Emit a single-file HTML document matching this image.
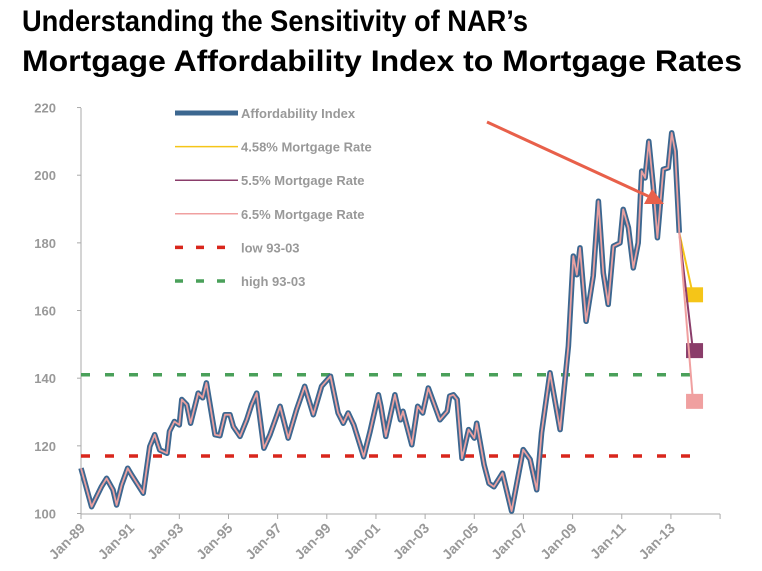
<!DOCTYPE html>
<html><head><meta charset="utf-8"><style>
body{margin:0;background:#fff;}
svg{display:block;font-family:"Liberation Sans",Arial,sans-serif;}
</style></head><body>
<svg id="c" width="762" height="571">
<text x="22" y="31" font-size="30" font-weight="bold" fill="#000" textLength="506" lengthAdjust="spacingAndGlyphs">Understanding the Sensitivity of NAR’s</text>
<text x="22" y="71" font-size="30" font-weight="bold" fill="#000" textLength="720" lengthAdjust="spacingAndGlyphs">Mortgage Affordability Index to Mortgage Rates</text>
</svg>
<script>
const years=[1989.0,1989.43,1989.84,1990.04,1990.3,1990.45,1990.65,1990.9,1991.06,1991.53,1991.8,1992.0,1992.2,1992.5,1992.6,1992.8,1993.0,1993.1,1993.3,1993.46,1993.77,1993.95,1994.1,1994.45,1994.65,1994.86,1995.06,1995.2,1995.47,1995.74,1995.94,1996.15,1996.44,1996.69,1997.1,1997.43,1997.77,1998.1,1998.45,1998.79,1999.15,1999.46,1999.67,1999.87,2000.1,2000.5,2000.76,2001.1,2001.2,2001.4,2001.77,2002.0,2002.1,2002.46,2002.7,2002.9,2003.13,2003.6,2003.9,2004.0,2004.15,2004.3,2004.5,2004.77,2005.0,2005.1,2005.4,2005.6,2005.8,2006.15,2006.52,2006.99,2007.27,2007.54,2007.74,2008.08,2008.49,2008.83,2009.03,2009.17,2009.3,2009.55,2009.84,2010.05,2010.25,2010.45,2010.66,2010.93,2011.06,2011.27,2011.47,2011.67,2011.81,2011.95,2012.1,2012.28,2012.45,2012.69,2012.89,2013.03,2013.17,2013.34];
const index=[113.4,102,108,110.4,107,102.5,108.4,113.4,111.4,106,119.8,123.3,118.8,117.8,124.3,127.2,126.2,133.7,132.2,126.7,135.6,134.2,138.6,123.3,123,129.2,129.2,125.7,122.8,127.7,132.2,135.6,119.3,123.3,131.7,122.3,130.7,137.6,129.2,137.6,140.6,129.7,126.7,129.7,126.2,116.8,124.3,135.1,131.7,122.8,135.1,127.7,130.2,120.3,131.7,129.7,137.1,127.7,130.2,134.7,135.1,133.7,116.3,124.8,122.3,126.7,114.4,108.9,107.9,111.9,100.7,118.9,116,107,123.9,141.6,124.8,149.5,176.1,170.6,178.5,156.8,170.2,192.3,171.1,161.8,179,180,189.9,184.5,172.6,180,201.2,199.2,210,196.9,181.5,201.7,202.2,212.5,207.1,183];
const projYear=2013.9;
const projNames=["4.58% Mortgage Rate","5.5% Mortgage Rate","6.5% Mortgage Rate"];
const projValues=[164.5,148,133];
const projColors=["#f5c518","#8a3d6a","#f0a0a0"];
const lowLine=117, highLine=141;
const yTicks=[100,120,140,160,180,200,220];
const xTickYears=[1989,1991,1993,1995,1997,1999,2001,2003,2005,2007,2009,2011,2013];
const xTickLabels=["Jan-89","Jan-91","Jan-93","Jan-95","Jan-97","Jan-99","Jan-01","Jan-03","Jan-05","Jan-07","Jan-09","Jan-11","Jan-13"];

const NS="http://www.w3.org/2000/svg", svg=document.getElementById('c');
const X=y=>81+(y-1989)*24.58, Y=v=>513.5-(v-100)*3.383;
function mk(t,a,p){const e=document.createElementNS(NS,t);for(const k in a)e.setAttribute(k,a[k]);(p||svg).appendChild(e);return e;}
const ax=mk('g',{});


mk('line',{x1:81,y1:108,x2:81,y2:514,stroke:'#aaa','stroke-width':1},ax);
mk('line',{x1:81,y1:514,x2:X(2015),y2:514,stroke:'#aaa','stroke-width':1},ax);
yTicks.forEach(v=>{
 mk('line',{x1:77,x2:81,y1:Y(v),y2:Y(v),stroke:'#aaa'},ax);
 const t=mk('text',{x:56,y:Y(v)+5,'text-anchor':'end','font-size':13,'font-weight':'bold',fill:'#999'},ax);
 t.textContent=v;
 
 
});
mk('line',{x1:X(2015),x2:X(2015),y1:514,y2:519,stroke:'#aaa'},ax);
xTickYears.forEach((yr,i)=>{
 const x=X(yr);
 mk('line',{x1:x,x2:x,y1:514,y2:519,stroke:'#aaa'},ax);
 const t=mk('text',{x:x+5,y:529,'text-anchor':'end','font-size':14,'font-weight':'bold',fill:'#999',transform:`rotate(-45 ${x+5} 529)`},ax);
 t.textContent=xTickLabels[i];
 
 
});
const lo=mk('line',{x1:X(1989),x2:X(2013.9),y1:Y(lowLine),y2:Y(lowLine),stroke:'#d9261c','stroke-width':3.5,'stroke-dasharray':'9,15'});


const hi=mk('line',{x1:X(1989),x2:X(2013.9),y1:Y(highLine),y2:Y(highLine),stroke:'#4aa05a','stroke-width':3.5,'stroke-dasharray':'9,15'});


const last=years.length-1;
projValues.forEach((v,i)=>{
 const l=mk('line',{x1:X(years[last]),y1:Y(index[last]),x2:X(projYear),y2:Y(v),stroke:projColors[i],'stroke-width':2});
 
 
 const r=mk('rect',{x:X(projYear)-7,y:Y(v)-8,width:17,height:15,fill:projColors[i]});
 
 
});
const pts=years.map((y,i)=>X(y).toFixed(1)+','+Y(index[i]).toFixed(1)).join(' ');
const o=mk('polyline',{points:pts,fill:'none',stroke:'#3c6790','stroke-width':5.5,'stroke-linejoin':'round'});


const inr=mk('polyline',{points:pts,fill:'none',stroke:'#e9a0a0','stroke-width':1.8,'stroke-linejoin':'round'});


const ar=mk('line',{x1:487,y1:122,x2:650,y2:197,stroke:'#e8604a','stroke-width':3});


mk('polygon',{points:'664,204 644,204 652,189',fill:'#e8604a'});
const lg=mk('g',{});


const legItems=[["Affordability Index","#3c6790",5,""],[projNames[0],projColors[0],1.5,""],[projNames[1],projColors[1],1.5,""],[projNames[2],projColors[2],1.5,""],["low 93-03","#d9261c",3.5,"8,13"],["high 93-03","#4aa05a",3.5,"8,13"]];
legItems.forEach((it,i)=>{
 const y=113+i*33.6;
 const g=mk('g',{},lg);
 
 
 const a={x1:175,x2:238,y1:y,y2:y,stroke:it[1],'stroke-width':it[2]};
 if(it[3])a['stroke-dasharray']=it[3];
 mk('line',a,g);
 const t=mk('text',{x:241,y:y+5,'font-size':13,'font-weight':'bold',fill:'#999'},g);
 t.textContent=it[0];
});
</script>
</body></html>
